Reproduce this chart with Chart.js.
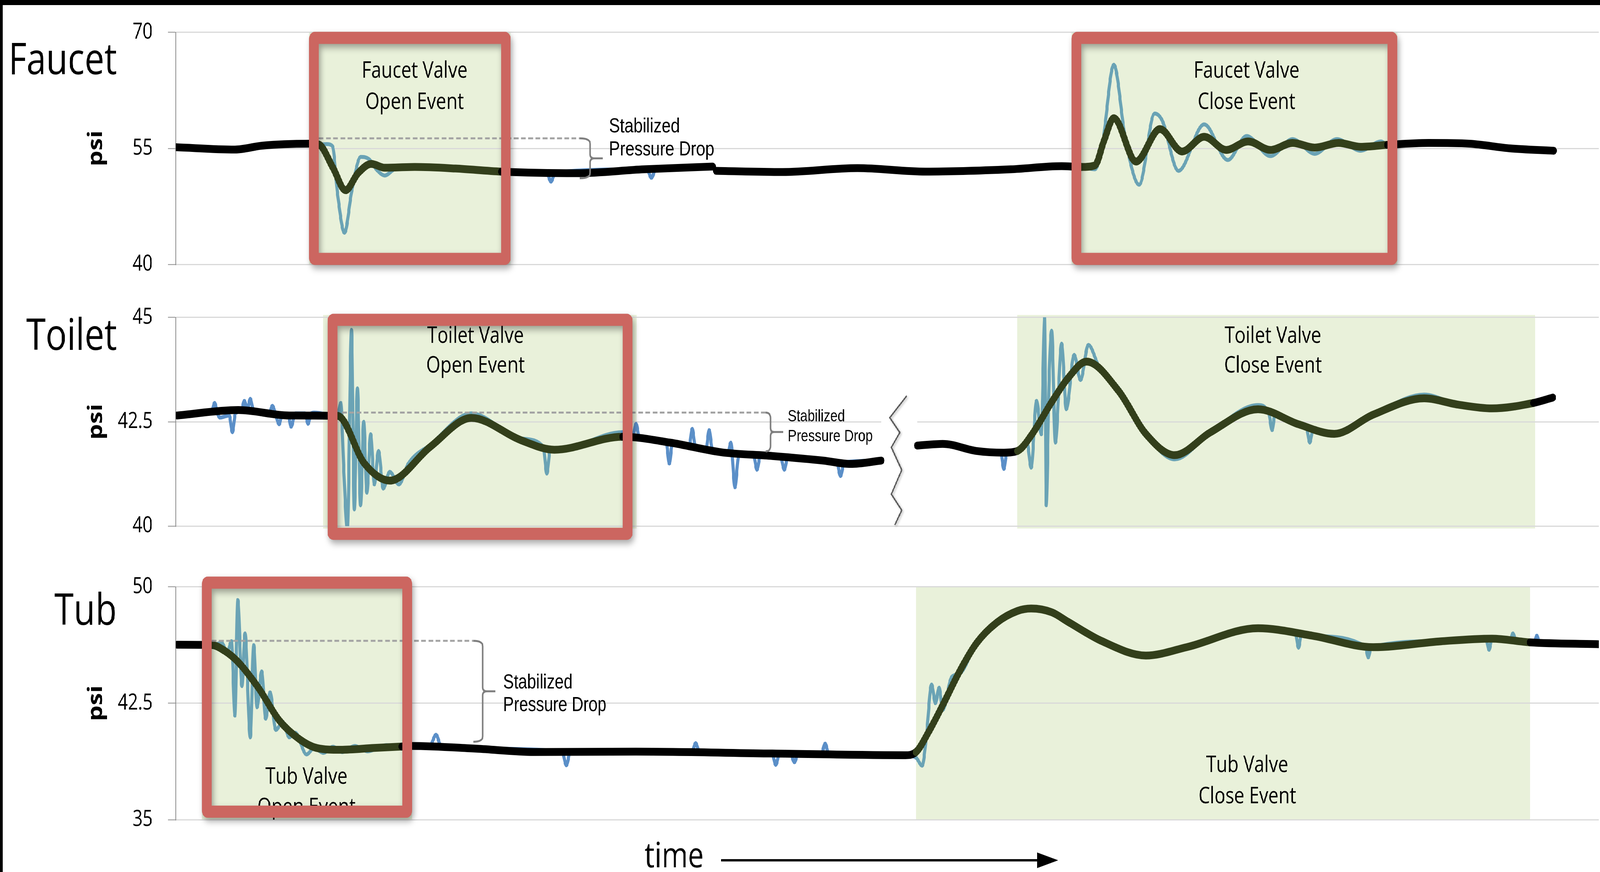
<!DOCTYPE html>
<html>
<head>
<meta charset="utf-8">
<script src="https://cdn.jsdelivr.net/npm/chart.js@4.4.1/dist/chart.umd.min.js"></script>
<style>
  html, body { margin: 0; padding: 0; background: #fff; overflow: hidden; }
  #stage { position: absolute; left: 0; top: 0; width: 5094px; height: 2233px; transform-origin: 0 0; background: #fff; }
  canvas { position: absolute; left: 0; }
  .bar { position: absolute; background: #000; z-index: 5; }
</style>
</head>
<body>
<div id="stage">
  <canvas id="faucet" width="5094" height="760" style="top:0px"></canvas>
  <canvas id="toilet" width="5094" height="700" style="top:730px"></canvas>
  <canvas id="tub" width="5094" height="813" style="top:1420px"></canvas>
  <div class="bar" style="left:0;top:0;width:5094px;height:13px"></div>
  <div class="bar" style="left:0;top:0;width:9px;height:2233px"></div>
</div>

<script>
// time runs 0..100 (arbitrary units) across every panel

// ---- Faucet ----
const faucetTicks = [40, 55, 70];
const faucetFiltT = [0, 4.15, 6.07, 9.36, 10.04, 11.04, 11.92, 12.8, 13.73, 14.68, 16.78, 19.65, 22.87, 28.21, 32.89,
  37.73, 37.85, 37.97, 42.63, 47.9, 52.69, 58.68, 62.25, 63.64, 64.59, 65.23, 65.92, 67.48, 69.16, 70.71,
  72.27, 73.82, 75.36, 76.93, 78.48, 80.04, 81.72, 83.27, 85.14, 88.04, 90.91, 93.77, 96.84];
const faucetFilt = [55.15, 54.85, 55.35, 55.6, 55.5, 52.5, 49.6, 51.8, 53.0, 52.5, 52.6, 52.4, 52.0, 51.8, 52.3,
  52.65, null, 52.1, 51.95, 52.45, 52.0, 52.3, 52.7, 52.6, 52.8, 56.0, 58.9, 53.3, 57.5, 54.6,
  56.5, 54.8, 55.9, 54.8, 55.7, 55.1, 55.7, 55.2, 55.45, 55.7, 55.6, 55.0, 54.7];
const faucetRawT = [0, 4.15, 6.07, 9.36, 10.04, 10.6, 11.0, 11.37, 11.85, 12.36, 13.0, 13.58, 14.13, 14.68, 15.45,
  16.78, 19.65, 22.87, 26.05, 26.36, 26.67, 33.11, 33.42, 33.73, 37.73, 37.85, 37.97, 42.63, 47.9, 52.69,
  58.68, 62.25, 63.64, 64.59, 65.12, 65.92, 66.71, 67.7, 68.79, 69.32, 70.46, 72.27, 73.93, 75.25, 76.93,
  78.48, 80.04, 81.59, 83.27, 84.7, 85.14, 88.04, 90.91, 93.77, 96.84];
const faucetRaw = [55.15, 54.85, 55.35, 55.6, 55.5, 55.55, 55.3, 49.0, 44.1, 49.5, 53.9, 53.6, 52.2, 51.5, 52.4,
  52.6, 52.4, 52.0, 51.9, 50.7, 51.9, 52.3, 51.2, 52.3, 52.65, null, 52.1, 51.95, 52.45, 52.0,
  52.3, 52.7, 52.6, 52.3, 55.5, 65.8, 56.5, 50.3, 59.5, 58.6, 52.1, 58.1, 53.5, 56.6, 54.0,
  56.2, 54.3, 56.2, 54.7, 55.9, 55.5, 55.7, 55.6, 55.0, 54.7];
const faucetEvents = [[10.04, 22.87], [63.64, 85.14]];

// ---- Toilet ----
const toiletTicks = [40, 42.5, 45];
const toiletFiltT = [0.09, 4.39, 7.97, 11.37, 13.25, 15.03, 17.88, 20.77, 24.24, 26.6, 31.39, 34.75, 38.32, 41.92, 45.5,
  47.42, 49.58, 50.5, 52.1, 53.89, 56.27, 58.19, 59.14, 60.11, 61.55, 62.69, 64.0, 66.27, 68.17, 70.2,
  72.72, 76.05, 78.9, 81.41, 84.15, 87.73, 90.11, 92.49, 95.41, 96.78];
const toiletFilt = [42.65, 42.78, 42.65, 42.64, 41.5, 41.09, 41.9, 42.59, 42.06, 41.83, 42.14, 42.0, 41.77, 41.68, 41.57,
  41.49, 41.57, null, 41.93, 41.97, 41.8, 41.76, 41.8, 42.17, 42.97, 43.54, 43.94, 43.23, 42.21, 41.7,
  42.25, 42.8, 42.44, 42.21, 42.67, 43.06, 42.91, 42.82, 42.95, 43.08];
const toiletRawT = [0.09, 1.99, 2.5, 2.72, 2.94, 3.09, 3.75, 3.97, 4.19, 4.6,
  4.81, 5.03, 5.23, 5.43, 6.57, 6.78, 6.99, 7.26, 7.47, 7.88,
  8.1, 8.39, 9.08, 9.29, 9.5, 9.71, 11.37, 11.59, 11.81, 12.05,
  12.34, 12.54, 12.76, 12.98, 13.2, 13.42, 13.69, 13.95, 14.24, 14.57,
  15.03, 15.67, 16.34, 17.88, 20.77, 24.24, 25.83, 26.07, 26.31, 26.6,
  31.39, 32.1, 32.34, 32.58, 34.46, 34.68, 34.9, 36.07, 36.29, 36.51,
  37.26, 37.48, 37.7, 38.81, 39.0, 39.29, 39.56, 40.6, 40.84, 41.08,
  41.92, 42.5, 42.76, 43.0, 45.5, 46.45, 46.71, 46.97, 49.58, 50.5,
  52.1, 53.89, 56.27, 57.97, 58.19, 58.41, 59.14, 59.82, 60.11, 60.49,
  60.82, 61.06, 61.17, 61.37, 61.55, 61.81, 62.25, 62.58, 63.13, 63.58,
  64.13, 64.9, 66.27, 68.17, 70.2, 72.72, 76.05, 76.82, 77.04, 77.26,
  78.9, 79.47, 79.69, 79.91, 81.41, 84.15, 87.73, 90.11, 92.49, 95.41,
  96.78];
const toiletRaw = [42.65, 42.75, 42.72, 42.95, 42.68, 42.6, 42.65, 42.25, 42.7, 42.76,
  43.0, 42.8, 43.05, 42.8, 42.72, 42.88, 42.7, 42.44, 42.68, 42.68,
  42.38, 42.7, 42.7, 42.45, 42.7, 42.72, 42.64, 42.95, 41.3, 39.9,
  44.7, 40.4, 43.3, 40.5, 42.5, 40.8, 42.2, 41.0, 41.8, 40.9,
  41.3, 41.0, 41.5, 41.95, 42.7, 42.1, 41.9, 41.26, 41.85, 41.8,
  42.25, 42.1, 42.45, 42.1, 42.0, 41.5, 42.0, 41.9, 42.33, 41.9,
  41.85, 42.3, 41.85, 41.76, 42.0, 40.93, 41.7, 41.7, 41.35, 41.69,
  41.68, 41.66, 41.35, 41.65, 41.57, 41.54, 41.2, 41.53, 41.57, null,
  41.93, 41.97, 41.8, 41.78, 41.37, 41.78, 41.8, 42.0, 41.4, 43.0,
  42.2, 45.0, 40.5, 43.5, 44.68, 42.0, 44.37, 42.8, 44.1, 43.5,
  44.34, 43.8, 43.3, 42.21, 41.6, 42.25, 42.9, 42.7, 42.3, 42.7,
  42.44, 42.35, 42.0, 42.3, 42.18, 42.67, 43.15, 42.91, 42.82, 42.95,
  43.1];
const toiletEvents = [[11.37, 31.39], [59.14, 95.41]];

// ---- Tub ----
const tubTicks = [35, 42.5, 50];
const tubFiltT = [0.09, 2.52, 3.42, 4.39, 5.83, 7.26, 8.7, 9.89, 11.57, 13.95,
  15.87, 16.6, 21.15, 25.17, 32.34, 41.92, 51.26, 52.01, 52.91, 53.89,
  55.08, 56.27, 57.7, 59.14, 60.11, 61.55, 62.69, 65.08, 68.17, 71.04,
  76.05, 79.87, 84.15, 88.92, 92.49, 95.17, 100];
const tubFilt = [46.27, 46.25, 45.88, 45.14, 43.45, 41.4, 40.17, 39.62, 39.5, 39.62,
  39.71, 39.75, 39.57, 39.36, 39.38, 39.26, 39.15, 39.35, 40.66, 42.37,
  44.55, 46.37, 47.7, 48.44, 48.6, 48.36, 47.75, 46.5, 45.57, 46.11,
  47.33, 46.85, 46.11, 46.49, 46.66, 46.42, 46.3];
const tubRawT = [0.09, 2.52, 3.2, 3.62, 3.91, 4.15, 4.35, 4.64, 4.86, 5.23,
  5.47, 5.7, 6.03, 6.31, 6.62, 7.02, 7.51, 7.97, 8.39, 9.18,
  9.71, 10.38, 11.04, 11.7, 12.58, 13.47, 14.79, 15.87, 16.6, 17.88,
  18.28, 18.65, 21.15, 27.15, 27.44, 27.73, 36.27, 36.53, 36.8, 41.9,
  42.16, 42.43, 43.2, 43.47, 43.73, 45.36, 45.63, 45.89, 51.26, 52.01,
  52.45, 52.76, 53.11, 53.38, 53.64, 53.89, 54.53, 55.08, 56.27, 57.7,
  59.14, 60.11, 61.55, 62.69, 65.08, 68.17, 71.04, 76.05, 78.7, 78.9,
  79.1, 79.87, 83.6, 83.8, 84.0, 88.92, 92.09, 92.29, 92.49, 93.77,
  93.97, 94.17, 95.17, 95.45, 95.65, 95.85, 100];
const tubRaw = [46.27, 46.2, 46.4, 45.8, 46.5, 41.7, 49.15, 43.6, 47.0, 40.3,
  46.24, 42.24, 44.55, 41.5, 43.2, 40.78, 41.3, 40.3, 40.6, 39.2,
  39.6, 39.3, 39.7, 39.35, 39.75, 39.4, 39.8, 39.7, 39.75, 39.8,
  40.47, 39.7, 39.57, 39.4, 38.5, 39.4, 39.35, 39.93, 39.35, 39.3,
  38.53, 39.3, 39.25, 38.7, 39.25, 39.22, 39.9, 39.22, 39.15, 39.0,
  38.48, 40.5, 43.7, 42.5, 43.5, 42.07, 44.2, 44.4, 46.37, 47.7,
  48.44, 48.6, 48.36, 47.75, 46.5, 45.57, 46.11, 47.4, 46.95, 46.07,
  46.95, 46.85, 46.15, 45.45, 46.1, 46.5, 46.6, 45.94, 46.6, 46.55,
  47.0, 46.5, 46.42, 46.35, 46.85, 46.3, 46.3];
const tubEvents = [[2.52, 15.87], [52.01, 95.17]];

// ---- styling ----
const SANS = '"Open Sans", sans-serif';
const ARIAL = '"Liberation Sans", Arial, sans-serif';
const GREEN = '#333f1b', TEAL = '#6aa3b5', BLUE = '#5b8fc8', BAND = '#e9f1da', RED = '#cc6660';
const FRAME = 31;

// fit the 5094x2233 drawing to whatever window we get
(function fitStage() {
  const st = document.getElementById('stage');
  const sx = (window.innerWidth || 5094) / 5094, sy = (window.innerHeight || 2233) / 2233;
  st.style.transform = 'scale(' + sx + ',' + sy + ')';
})();

function pairs(ts, vs) { return ts.map((t, i) => ({ x: t, y: vs[i] })); }
function inside(c, wins) {
  const a = c.p0.parsed.x, b = c.p1.parsed.x;
  return wins.some(([s, e]) => a >= s - 1e-6 && b <= e + 1e-6);
}

function makeDecor(cfg) {
  return {
    id: 'decor',
    beforeDraw(chart) {
      const { ctx, chartArea: a, scales: { x } } = chart;
      ctx.save();
      ctx.fillStyle = BAND;
      cfg.bands.forEach(([t0, t1]) => {
        const x0 = x.getPixelForValue(t0), x1 = x.getPixelForValue(t1);
        ctx.fillRect(x0, a.top - cfg.bandPad, x1 - x0, a.bottom - a.top + 2 * cfg.bandPad);
      });
      ctx.restore();
    },
    afterDatasetsDraw(chart) {
      const { ctx, chartArea: a, scales: { x, y } } = chart;
      ctx.save();

      // axis break marker
      if (cfg.brk) {
        const b = cfg.brk;
        const gy = y.getPixelForValue(b.grid);
        ctx.fillStyle = '#fff';
        ctx.fillRect(x.getPixelForValue(b.g0), gy - 3, x.getPixelForValue(b.g1) - x.getPixelForValue(b.g0), 6);
        const cx = x.getPixelForValue(b.t);
        ctx.save();
        ctx.shadowColor = 'rgba(0,0,0,0.3)'; ctx.shadowBlur = 6; ctx.shadowOffsetX = 3; ctx.shadowOffsetY = 3;
        ctx.strokeStyle = '#595959'; ctx.lineWidth = 4; ctx.lineJoin = 'miter';
        ctx.beginPath();
        b.pts.forEach(([dx, dy], i) => {
          const px = cx + dx, py = a.top + dy;
          if (i === 0) ctx.moveTo(px, py); else ctx.lineTo(px, py);
        });
        ctx.stroke();
        ctx.restore();
      }

      // stabilized pressure drop: dashed level + bracket + label
      const d = cfg.drop;
      const yh = y.getPixelForValue(d.hi), yl = y.getPixelForValue(d.lo), ym = (yh + yl) / 2;
      const x0 = x.getPixelForValue(d.t0), x1 = x.getPixelForValue(d.t1), xb = x.getPixelForValue(d.bx);
      ctx.strokeStyle = '#a3a3a3'; ctx.lineWidth = 5; ctx.setLineDash([15, 8]);
      ctx.beginPath(); ctx.moveTo(x0, yh); ctx.lineTo(x1, yh); ctx.stroke();
      ctx.setLineDash([]);
      ctx.strokeStyle = '#7f7f7f'; ctx.lineWidth = 5; ctx.lineJoin = 'round';
      ctx.beginPath();
      ctx.moveTo(x1, yh); ctx.quadraticCurveTo(xb, yh, xb, yh + 14);
      ctx.lineTo(xb, ym - 10); ctx.quadraticCurveTo(xb, ym, xb + 12, ym); ctx.lineTo(xb + 40, ym);
      ctx.moveTo(xb + 12, ym); ctx.quadraticCurveTo(xb, ym, xb, ym + 10);
      ctx.lineTo(xb, yl - 14); ctx.quadraticCurveTo(xb, yl, x1, yl);
      ctx.stroke();
      ctx.fillStyle = '#000';
      ctx.font = d.size + 'px ' + ARIAL;
      ctx.textAlign = 'left'; ctx.textBaseline = 'alphabetic';
      const ly = y.getPixelForValue(d.lv);
      ctx.fillText('Stabilized', x.getPixelForValue(d.lx), ly);
      ctx.fillText('Pressure Drop', x.getPixelForValue(d.lx), ly + d.gap);

      // event captions
      ctx.font = '58px ' + SANS;
      ctx.textAlign = 'center';
      cfg.captions.forEach(c => {
        const cx = x.getPixelForValue(c.t), cy = y.getPixelForValue(c.v);
        c.lines.forEach((s, i) => ctx.fillText(s, cx, cy + i * c.gap));
      });

      // red frames round the open events
      cfg.frames.forEach(f => {
        const fx0 = x.getPixelForValue(f.t0), fx1 = x.getPixelForValue(f.t1);
        const fy0 = a.top + f.top, fy1 = a.bottom + f.bottom;
        ctx.save();
        ctx.shadowColor = 'rgba(0,0,0,0.35)'; ctx.shadowBlur = 18; ctx.shadowOffsetX = 5; ctx.shadowOffsetY = 9;
        ctx.fillStyle = RED;
        ctx.beginPath();
        ctx.roundRect(fx0, fy0, fx1 - fx0, fy1 - fy0, 18);
        ctx.rect(fx0 + FRAME, fy0 + FRAME, fx1 - fx0 - 2 * FRAME, fy1 - fy0 - 2 * FRAME);
        ctx.fill('evenodd');
        ctx.restore();
      });

      // panel name
      ctx.fillStyle = '#000';
      ctx.font = '112px ' + SANS;
      ctx.textAlign = 'right';
      ctx.fillText(cfg.name, 372, a.top + cfg.nameDy);

      // time arrow under the last panel
      if (cfg.time) {
        ctx.font = '90px ' + SANS;
        ctx.textAlign = 'left';
        ctx.fillText('time', 2052, a.bottom + 122);
        const ay = a.bottom + 104;
        ctx.strokeStyle = '#000'; ctx.lineWidth = 6;
        ctx.beginPath(); ctx.moveTo(2296, ay); ctx.lineTo(3310, ay); ctx.stroke();
        ctx.beginPath(); ctx.moveTo(3302, ay - 20); ctx.lineTo(3369, ay); ctx.lineTo(3302, ay + 20); ctx.closePath();
        ctx.fillStyle = '#000'; ctx.fill();
      }
      ctx.restore();
    }
  };
}

function panel(id, cfg) {
  return new Chart(document.getElementById(id), {
    type: 'line',
    data: {
      datasets: [
        {
          data: pairs(cfg.filtT, cfg.filt), order: 1, borderWidth: 20, borderColor: '#000',
          segment: { borderColor: c => inside(c, cfg.events) ? GREEN : '#000' }
        },
        {
          data: pairs(cfg.rawT, cfg.raw), order: 2, borderWidth: 10, borderColor: BLUE,
          segment: { borderColor: c => inside(c, cfg.events) ? TEAL : BLUE }
        }
      ]
    },
    options: {
      responsive: false, animation: false, devicePixelRatio: 1, events: [],
      layout: { padding: { left: 0, right: 4, top: cfg.padTop, bottom: cfg.padBottom } },
      elements: {
        point: { radius: 0 },
        line: { cubicInterpolationMode: 'monotone', borderJoinStyle: 'round', borderCapStyle: 'round' }
      },
      spanGaps: false,
      plugins: { legend: { display: false }, tooltip: { enabled: false } },
      scales: {
        x: { type: 'linear', min: 0, max: 100, display: false },
        y: {
          min: cfg.ticks[0], max: cfg.ticks[cfg.ticks.length - 1],
          afterBuildTicks: s => { s.ticks = cfg.ticks.map(v => ({ value: v })); },
          afterFit: s => { s.width = 560; },
          ticks: { autoSkip: false, padding: 49, color: '#000', font: { family: SANS, size: 56 }, callback: v => String(v) },
          grid: { color: '#d9d9d9', lineWidth: 3, tickLength: 25, tickColor: '#8c8c8c', tickWidth: 2 },
          border: { display: true, color: '#8c8c8c', width: 2 },
          title: { display: true, text: 'psi', color: '#000', font: { family: SANS, size: 64, weight: 'bold' }, padding: { top: 268, bottom: 0 } }
        }
      }
    },
    plugins: [makeDecor(cfg)]
  });
}

panel('faucet', {
  name: 'Faucet', nameDy: 107, padTop: 72, padBottom: 55,
  ticks: faucetTicks, filtT: faucetFiltT, filt: faucetFilt, rawT: faucetRawT, raw: faucetRaw, events: faucetEvents,
  bands: [[9.36, 23.53], [62.94, 85.85]], bandPad: 0,
  frames: [{ t0: 9.36, t1: 23.53, top: -1, bottom: 1 }, { t0: 62.94, t1: 85.85, top: -1, bottom: 1 }],
  captions: [
    { t: 16.78, v: 64.12, gap: 80, lines: ['Faucet Valve', 'Open Event'] },
    { t: 75.25, v: 64.12, gap: 80, lines: ['Faucet Valve', 'Close Event'] }
  ],
  drop: { t0: 10.04, t1: 28.39, hi: 56.3, lo: 51.14, bx: 29.12, lx: 30.44, lv: 57.06, gap: 59, size: 52 }
});

panel('toilet', {
  name: 'Toilet', nameDy: 83, padTop: 61, padBottom: 50,
  ticks: toiletTicks, filtT: toiletFiltT, filt: toiletFilt, rawT: toiletRawT, raw: toiletRaw, events: toiletEvents,
  bands: [[10.35, 32.38], [59.14, 95.53]], bandPad: 6,
  frames: [{ t0: 10.66, t1: 32.10, top: -9, bottom: 35 }],
  captions: [
    { t: 21.06, v: 44.39, gap: 76, lines: ['Toilet Valve', 'Open Event'] },
    { t: 77.1, v: 44.39, gap: 76, lines: ['Toilet Valve', 'Close Event'] }
  ],
  drop: { t0: 11.68, t1: 41.43, hi: 42.72, lo: 41.79, bx: 41.79, lx: 43.0, lv: 42.51, gap: 51, size: 42 },
  brk: { t: 50.77, grid: 42.5, g0: 49.58, g1: 52.1,
    pts: [[27, 201], [-27, 257], [5, 295], [-22, 333], [11, 391], [-22, 453], [11, 494], [-11, 532]] }
});

panel('tub', {
  name: 'Tub', nameDy: 97, padTop: 46, padBottom: 134, time: true,
  ticks: tubTicks, filtT: tubFiltT, filt: tubFilt, rawT: tubRawT, raw: tubRaw, events: tubEvents,
  bands: [[1.83, 16.6], [52.01, 95.17]], bandPad: 0,
  frames: [{ t0: 1.83, t1: 16.60, top: -26, bottom: -5 }],
  captions: [
    { t: 9.18, v: 37.32, gap: 78, lines: ['Tub Valve', 'Open Event'] },
    { t: 75.3, v: 38.06, gap: 80, lines: ['Tub Valve', 'Close Event'] }
  ],
  drop: { t0: 2.52, t1: 20.9, hi: 46.52, lo: 40.02, bx: 21.57, lx: 23.0, lv: 43.44, gap: 58, size: 51 }
});
</script>
</body>
</html>
